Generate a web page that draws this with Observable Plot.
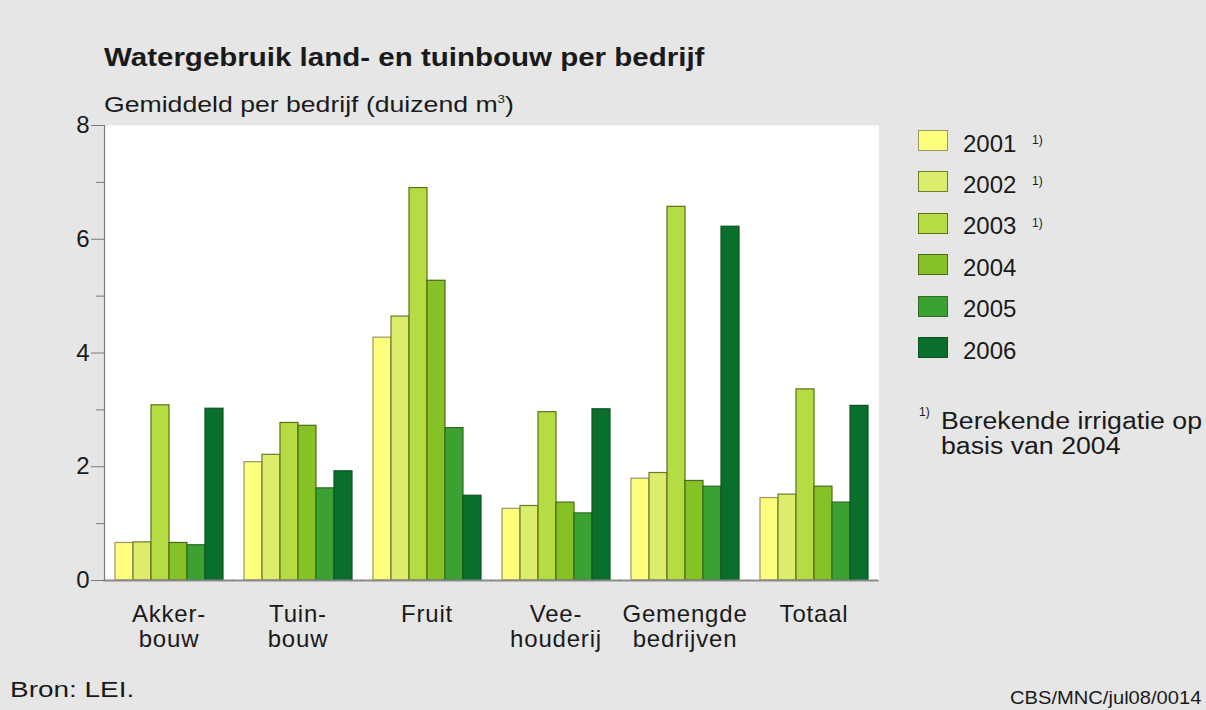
<!DOCTYPE html>
<html>
<head>
<meta charset="utf-8">
<script src="https://cdn.jsdelivr.net/npm/d3@7"></script>
<script src="https://cdn.jsdelivr.net/npm/@observablehq/plot@0.6"></script>
<style>
  html, body { margin: 0; padding: 0; background: #e6e6e6; }
  #wrap { position: relative; width: 1206px; height: 710px; overflow: hidden; background: #e6e6e6;
          font-family: "Liberation Sans", Arial, sans-serif; color: #1a1a1a; }
  #chart { position: absolute; left: 0; top: 0; }
  .t { position: absolute; white-space: nowrap; line-height: 1; transform-origin: left top; }
  .sw { position: absolute; width: 30px; height: 21px; box-sizing: border-box; border: 1.5px solid #5d6a2a; }
  .chart g[aria-label="fx-axis tick label"] text { letter-spacing: 0.8px; }
</style>
</head>
<body>
<div id="wrap">
  <div id="chart"></div>
  <div class="t" style="left:104px; top:45px; font-size:25px; font-weight:bold; transform:scaleX(1.18);">Watergebruik land- en tuinbouw per bedrijf</div>
  <div class="t" style="left:104px; top:94px; font-size:22px; transform:scaleX(1.21);">Gemiddeld per bedrijf (duizend m<sup style="font-size:11px; vertical-align:9px;">3</sup>)</div>
  <div id="legend"></div>
  <div class="t" style="left:919px; top:406px; font-size:12px;">1)</div>
  <div class="t" style="left:941px; top:409px; font-size:23px; line-height:25px; transform:scaleX(1.16);">Berekende irrigatie op<br>basis van 2004</div>
  <div class="t" style="left:10px; top:679px; font-size:22px; transform:scaleX(1.27);">Bron: LEI.</div>
  <div class="t" style="left:1010px; top:688px; font-size:19px; transform:scaleX(1.06);">CBS/MNC/jul08/0014</div>
</div>
<script>
// Categories and labels
const groups = ["Akkerbouw", "Tuinbouw", "Fruit", "Veehouderij", "Gemengde bedrijven", "Totaal"];
const groupLabels = ["Akker-\nbouw", "Tuin-\nbouw", "Fruit", "Vee-\nhouderij", "Gemengde\nbedrijven", "Totaal"];
const years = ["2001", "2002", "2003", "2004", "2005", "2006"];
const footnoted = ["2001", "2002", "2003"];

// Series values (duizend m3 per bedrijf), one array per year, in group order
const v2001 = [0.66, 2.08, 4.27, 1.26, 1.79, 1.45];
const v2002 = [0.67, 2.21, 4.64, 1.31, 1.89, 1.51];
const v2003 = [3.08, 2.77, 6.90, 2.96, 6.57, 3.36];
const v2004 = [0.66, 2.72, 5.27, 1.37, 1.75, 1.65];
const v2005 = [0.62, 1.62, 2.68, 1.18, 1.65, 1.37];
const v2006 = [3.02, 1.92, 1.49, 3.01, 6.22, 3.07];

// Y ticks
const majorTicks = [0, 2, 4, 6, 8];
const minorTicks = [1, 3, 5, 7];

// Styles
const fills = ["#fdfd7e", "#dcec6c", "#b5dc42", "#86c226", "#3aa132", "#0a6e2c"];
const strokes = ["#9a9662", "#6f7a2a", "#5f7018", "#4f6a14", "#2f6a22", "#0a5424"];

const seriesValues = [v2001, v2002, v2003, v2004, v2005, v2006];
const rows = years.flatMap((yr, j) =>
  seriesValues[j].map((v, i) => ({ group: groups[i], year: yr, value: v }))
);

const chart = Plot.plot({
  width: 1206,
  height: 710,
  marginLeft: 103,
  marginRight: 328,
  marginTop: 125,
  marginBottom: 130,
  className: "chart",
  style: { background: "transparent", fontFamily: "'Liberation Sans', Arial, sans-serif", overflow: "visible" },
  fx: { domain: groups, padding: 0 },
  x: { domain: years, paddingInner: 0, paddingOuter: 0.414, axis: null },
  y: { domain: [0, 8] },
  marks: [
    Plot.frame({ fill: "white", stroke: "none", insetLeft: -0.6, insetRight: -0.6 }),
    Plot.barY(rows, {
      fx: "group", x: "year", y: "value",
      fill: d => fills[years.indexOf(d.year)],
      stroke: d => strokes[years.indexOf(d.year)],
      strokeWidth: 1.2, inset: 0
    }),
    Plot.ruleY([0], { stroke: "#8a8a8a", strokeWidth: 2, insetLeft: -0.6, insetRight: -0.6 }),
    Plot.frame({ anchor: "left", facetAnchor: "left", stroke: "#7a7a7a", strokeWidth: 1.2 }),
    Plot.axisY({ ticks: minorTicks, tickSize: 8, fill: "none", stroke: "#7a7a7a", label: null }),
    Plot.axisY({ ticks: majorTicks, tickSize: 13, tickPadding: 2, fontSize: 24, stroke: "#7a7a7a", fill: "#1a1a1a", label: null }),
    Plot.axisFx({
      anchor: "bottom", tickSize: 0, tickPadding: 24, fontSize: 24, lineHeight: 1.04,
      tickFormat: d => groupLabels[groups.indexOf(d)], fill: "#1a1a1a", label: null
    })
  ]
});
document.getElementById("chart").append(chart);

// Legend (HTML)
const legend = document.getElementById("legend");
years.forEach((yr, j) => {
  const top = 130 + j * 41.4;
  const sw = document.createElement("div");
  sw.className = "sw";
  sw.style.left = "918px";
  sw.style.top = top + "px";
  sw.style.background = fills[j];
  sw.style.borderColor = strokes[j];
  legend.appendChild(sw);
  const lab = document.createElement("div");
  lab.className = "t";
  lab.style.left = "963px";
  lab.style.top = (top + 1.5) + "px";
  lab.style.fontSize = "24px";
  lab.textContent = yr;
  legend.appendChild(lab);
  if (footnoted.includes(yr)) {
    const sup = document.createElement("div");
    sup.className = "t";
    sup.style.left = "1032px";
    sup.style.top = (top + 4) + "px";
    sup.style.fontSize = "12px";
    sup.textContent = "1)";
    legend.appendChild(sup);
  }
});
</script>
</body>
</html>
